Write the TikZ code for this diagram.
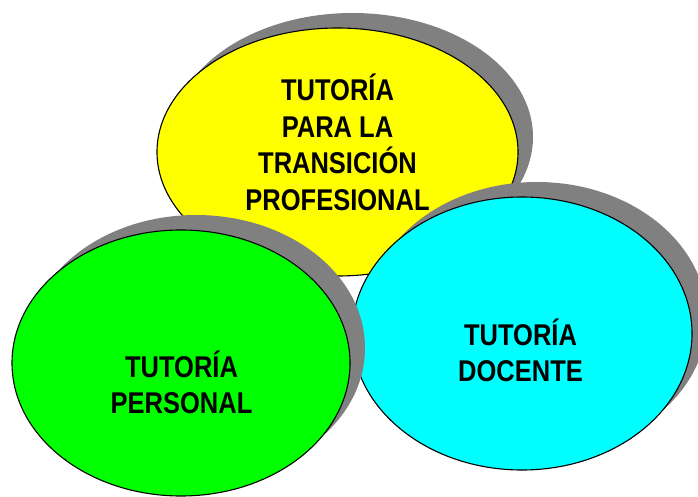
\documentclass[tikz,border=0pt]{standalone}
\usepackage{fontspec}
\setmainfont[FakeStretch=0.85]{Liberation Sans}
\usetikzlibrary{shapes.geometric,shadows}
\definecolor{shadowgray}{HTML}{808080}
\definecolor{yel}{HTML}{FFFF00}
\definecolor{grn}{HTML}{00FF00}
\definecolor{cyn}{HTML}{00FFFF}
\begin{document}
\begin{tikzpicture}[x=1pt,y=-1pt,
  blob/.style={ellipse, draw=black, line width=1.1pt, inner sep=0pt,
    drop shadow={shadow xshift=15pt, shadow yshift=15pt, fill=shadowgray, opacity=1, draw=none}},
  lbl/.style={align=center, font=\fontsize{30}{36.5}\selectfont\bfseries, inner sep=0pt}]
\useasboundingbox (0,0) rectangle (698,496);
\node[blob, fill=yel, minimum width=361pt, minimum height=248pt] (yellow) at (337.5,152) {};
\node[blob, fill=cyn, minimum width=340pt, minimum height=273pt] (cyan) at (522,333.5) {};
\node[blob, fill=grn, minimum width=338pt, minimum height=266pt] (green) at (181,363) {};
\node[lbl] (tyellow) at (337.5,142.5) {TUTORÍA\\PARA LA\\TRANSICIÓN\\PROFESIONAL};
\node[lbl] (tgreen) at (181.5,382.5) {TUTORÍA\\PERSONAL};
\node[lbl] (tcyan) at (520.5,350.5) {TUTORÍA\\DOCENTE};
\end{tikzpicture}
\end{document}
